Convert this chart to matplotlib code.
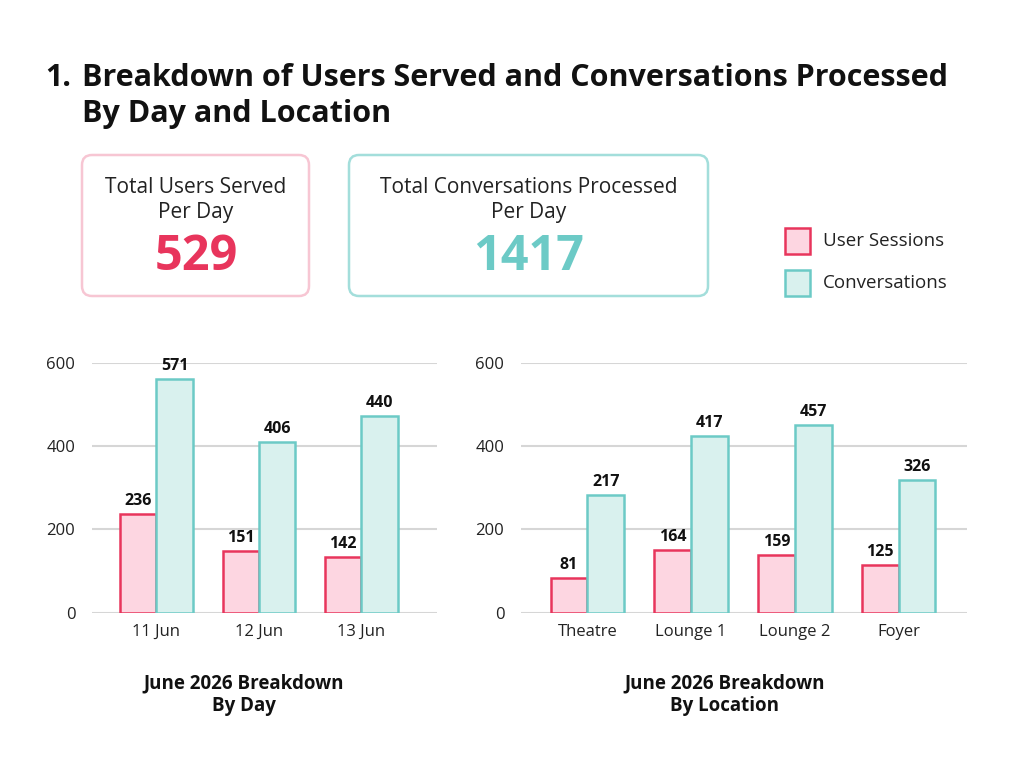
import matplotlib
matplotlib.use("Agg")
import matplotlib.pyplot as plt
from matplotlib.patches import FancyBboxPatch, Rectangle
import numpy as np

plt.rcParams['font.family'] = ['Open Sans', 'DejaVu Sans']

# data
days = ['11 Jun', '12 Jun', '13 Jun']
day_sessions = [237, 149, 134]
day_convs = [562, 410, 473]
day_sessions_lbl = ['236', '151', '142']
day_convs_lbl = ['571', '406', '440']

locations = ['Theatre', 'Lounge 1', 'Lounge 2', 'Foyer']
loc_sessions = [84, 150, 138, 114]
loc_convs = [282, 424, 450, 318]
loc_sessions_lbl = ['81', '164', '159', '125']
loc_convs_lbl = ['217', '417', '457', '326']

total_users = '529'
total_convs = '1417'

PINK_FACE = '#fdd6e1'
PINK_EDGE = '#e8355c'
TEAL_FACE = '#d9f1ee'
TEAL_EDGE = '#6ccac6'
TXT = '#111111'

fig = plt.figure(figsize=(10.24, 7.68), dpi=100)

# overlay in pixel coords for the header stuff
ov = fig.add_axes([0, 0, 1, 1])
ov.set_xlim(0, 1024)
ov.set_ylim(768, 0)
ov.axis('off')

ov.text(45, 78, '1.', fontsize=22, fontweight='bold', color=TXT, va='center')
ov.text(82, 78, 'Breakdown of Users Served and Conversations Processed',
        fontsize=22, fontweight='bold', color=TXT, va='center')
ov.text(82, 114, 'By Day and Location', fontsize=22, fontweight='bold', color=TXT, va='center')

box1 = FancyBboxPatch((82, 155), 227, 141, boxstyle='round,pad=0,rounding_size=10',
                      fc='white', ec='#f7c6d3', lw=1.8)
box2 = FancyBboxPatch((349, 155), 359, 141, boxstyle='round,pad=0,rounding_size=10',
                      fc='white', ec='#a3dedb', lw=1.8)
ov.add_patch(box1)
ov.add_patch(box2)
ov.text(196, 200, 'Total Users Served\nPer Day', fontsize=15, color='#222222',
        ha='center', va='center', linespacing=1.2)
ov.text(196, 257, total_users, fontsize=35, fontweight='bold', color=PINK_EDGE,
        ha='center', va='center')
ov.text(529, 200, 'Total Conversations Processed\nPer Day', fontsize=15, color='#222222',
        ha='center', va='center', linespacing=1.2)
ov.text(529, 257, total_convs, fontsize=35, fontweight='bold', color=TEAL_EDGE,
        ha='center', va='center')

# legend
ov.add_patch(Rectangle((785, 228), 25, 26, fc=PINK_FACE, ec=PINK_EDGE, lw=1.8))
ov.add_patch(Rectangle((785, 270), 25, 26, fc=TEAL_FACE, ec=TEAL_EDGE, lw=1.8))
ov.text(823, 241, 'User Sessions', fontsize=13.5, color='#222222', va='center')
ov.text(823, 283, 'Conversations', fontsize=13.5, color='#222222', va='center')

ov.text(244, 695, 'June 2026 Breakdown\nBy Day', fontsize=13.5, fontweight='bold',
        color=TXT, ha='center', va='center', linespacing=1.2)
ov.text(725, 695, 'June 2026 Breakdown\nBy Location', fontsize=13.5, fontweight='bold',
        color=TXT, ha='center', va='center', linespacing=1.2)


def bar_chart(ax, cats, s, c, s_lbl, c_lbl, xlim):
    x = np.arange(len(cats))
    w = 0.355
    ax.bar(x - w / 2, s, w, color=PINK_FACE, edgecolor=PINK_EDGE, linewidth=1.8, zorder=3)
    ax.bar(x + w / 2, c, w, color=TEAL_FACE, edgecolor=TEAL_EDGE, linewidth=1.8, zorder=3)
    for i in range(len(cats)):
        ax.text(x[i] - w / 2, s[i] + 12, s_lbl[i], ha='center', va='bottom',
                fontsize=11.5, fontweight='bold', color=TXT)
        ax.text(x[i] + w / 2, c[i] + 12, c_lbl[i], ha='center', va='bottom',
                fontsize=11.5, fontweight='bold', color=TXT)
    ax.set_ylim(0, 600)
    ax.set_xlim(*xlim)
    ax.set_yticks([0, 200, 400, 600])
    ax.set_xticks(x)
    ax.set_xticklabels(cats)
    ax.tick_params(length=0, labelsize=12, colors='#222222', pad=8)
    ax.tick_params(axis='y', pad=12)
    ax.yaxis.grid(True, color='#d6d6d6', linewidth=1.5, zorder=0)
    ax.set_axisbelow(True)
    for sp in ax.spines.values():
        sp.set_visible(False)


ax1 = fig.add_axes([92 / 1024, (768 - 612.7) / 768, 345 / 1024, 250 / 768])
bar_chart(ax1, days, day_sessions, day_convs, day_sessions_lbl, day_convs_lbl, (-0.63, 2.74))

ax2 = fig.add_axes([521 / 1024, (768 - 612.7) / 768, 446 / 1024, 250 / 768])
bar_chart(ax2, locations, loc_sessions, loc_convs, loc_sessions_lbl, loc_convs_lbl, (-0.64, 3.66))

fig.savefig('out.png', dpi=100)
